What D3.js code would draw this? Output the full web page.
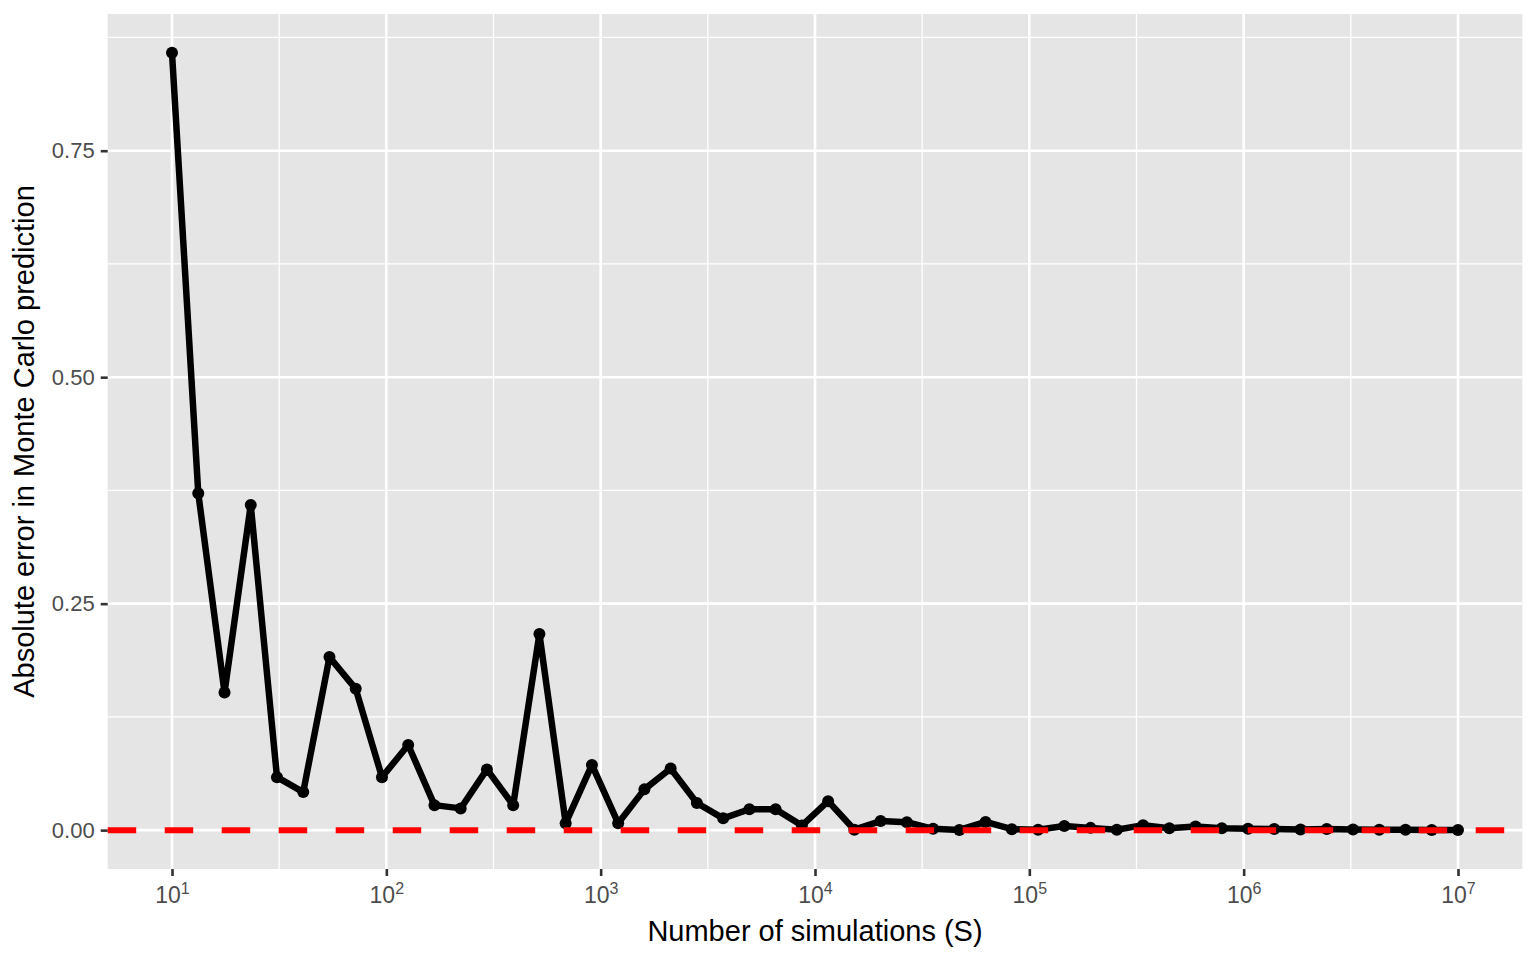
<!DOCTYPE html>
<html><head><meta charset="utf-8">
<script src="https://cdn.jsdelivr.net/npm/d3@7"></script>
<style>body{margin:0;background:#fff}svg{display:block}text{font-family:"Liberation Sans",Arial,sans-serif}</style>
</head><body>
<script>
const S = [10, 13.26, 17.58, 23.30, 30.89, 40.95, 54.29, 71.97, 95.41, 126.5, 167.7, 222.3, 294.7, 390.7, 517.9, 686.6, 910.3, 1206.8, 1599.9, 2120.9, 2811.8, 3727.6, 4941.7, 6551.3, 8685.1, 11514, 15264, 20236, 26827, 35565, 47149, 62506, 82864, 109854, 145635, 193070, 255955, 339322, 449843, 596362, 790604, 1048113, 1389495, 1842070, 2442053, 3237458, 4291934, 5689866, 7543120, 10000000];
const absError = [0.858, 0.372, 0.152, 0.359, 0.0585, 0.042, 0.191, 0.156, 0.0585, 0.094,
  0.0276, 0.024, 0.067, 0.0276, 0.2165, 0.0077, 0.072, 0.0077, 0.045, 0.068,
  0.030, 0.013, 0.023, 0.023, 0.005, 0.032, 0.0005, 0.010, 0.0088, 0.0015,
  0.0002, 0.009, 0.001, 0.0005, 0.0045, 0.0025, 0.0005, 0.0055, 0.002, 0.004,
  0.002, 0.0015, 0.0012, 0.0008, 0.0012, 0.0008, 0.0003, 0.0004, 0.0002, 0.0001];
const yTicks = [0, 0.25, 0.5, 0.75];
const yMinor = [0.125, 0.375, 0.625, 0.875];
const xExponents = [1, 2, 3, 4, 5, 6, 7];
const xMinorExp = [1.5, 2.5, 3.5, 4.5, 5.5, 6.5];
const refLine = 0;
const xTitle = "Number of simulations (S)";
const yTitle = "Absolute error in Monte Carlo prediction";

const W = 1536, H = 960;
const P = {l: 107.7, r: 1522.3, t: 14, b: 869};
const svg = d3.select("body").append("svg").attr("width", W).attr("height", H);

const x = d3.scaleLog().domain([Math.pow(10, 0.7), Math.pow(10, 7.3)]).range([P.l, P.r]);
const ymax = d3.max(absError), ex = (ymax - 0) * 0.05;
const y = d3.scaleLinear().domain([0 - ex, ymax + ex]).range([P.b, P.t]);

svg.append("rect").attr("x", P.l).attr("y", P.t).attr("width", P.r - P.l).attr("height", P.b - P.t).attr("fill", "#E5E5E5");
const g = svg.append("g");
g.selectAll(".ymin").data(yMinor).join("line").attr("x1", P.l).attr("x2", P.r)
  .attr("y1", d => y(d)).attr("y2", d => y(d)).attr("stroke", "#fff").attr("stroke-width", 1.3);
g.selectAll(".xmin").data(xMinorExp).join("line").attr("y1", P.t).attr("y2", P.b)
  .attr("x1", d => x(Math.pow(10, d))).attr("x2", d => x(Math.pow(10, d))).attr("stroke", "#fff").attr("stroke-width", 1.3);
g.selectAll(".ymaj").data(yTicks).join("line").attr("x1", P.l).attr("x2", P.r)
  .attr("y1", d => y(d)).attr("y2", d => y(d)).attr("stroke", "#fff").attr("stroke-width", 2.6);
g.selectAll(".xmaj").data(xExponents).join("line").attr("y1", P.t).attr("y2", P.b)
  .attr("x1", d => x(Math.pow(10, d))).attr("x2", d => x(Math.pow(10, d))).attr("stroke", "#fff").attr("stroke-width", 2.6);

const yAxis = d3.axisLeft(y).tickValues(yTicks).tickFormat(d3.format(".2f")).tickSize(7).tickPadding(6);
const ya = svg.append("g").attr("transform", `translate(${P.l},0)`).call(yAxis);
ya.select(".domain").remove();
ya.selectAll(".tick line").attr("stroke", "#333333").attr("stroke-width", 2.6);
ya.selectAll(".tick text").attr("fill", "#4D4D4D").attr("font-size", 22).attr("font-family", '"Liberation Sans",Arial,sans-serif');

const xAxis = d3.axisBottom(x).tickValues(xExponents.map(e => Math.pow(10, e))).tickFormat("").tickSize(7);
const xa = svg.append("g").attr("transform", `translate(0,${P.b})`).call(xAxis);
xa.select(".domain").remove();
xa.selectAll(".tick line").attr("stroke", "#333333").attr("stroke-width", 2.6);
xa.selectAll(".tick").each(function(d, i) {
  const t = d3.select(this).append("text").attr("y", 34).attr("text-anchor", "middle")
    .attr("fill", "#4D4D4D").attr("font-size", 23).attr("font-family", '"Liberation Sans",Arial,sans-serif');
  t.append("tspan").text("10");
  t.append("tspan").attr("dy", -9).attr("font-size", 16).text(String(xExponents[i]));
});

const line = d3.line().x((d, i) => x(S[i])).y(d => y(d));
svg.append("path").datum(absError).attr("d", line).attr("fill", "none")
  .attr("stroke", "#000").attr("stroke-width", 6.5).attr("stroke-linejoin", "round");
svg.selectAll(".pt").data(absError).join("circle").attr("cx", (d, i) => x(S[i])).attr("cy", d => y(d))
  .attr("r", 6).attr("fill", "#000");

svg.append("line").attr("x1", P.l).attr("x2", P.r).attr("y1", y(refLine)).attr("y2", y(refLine))
  .attr("stroke", "#FF0000").attr("stroke-width", 6).attr("stroke-dasharray", "28.5 28.5");

svg.append("text").attr("x", (P.l + P.r) / 2).attr("y", 941).attr("text-anchor", "middle")
  .attr("font-size", 29).attr("fill", "#000").text(xTitle);
svg.append("text").attr("transform", `translate(34,${(P.t + P.b) / 2}) rotate(-90)`).attr("text-anchor", "middle")
  .attr("font-size", 29).attr("fill", "#000").text(yTitle);
</script>
</body></html>
